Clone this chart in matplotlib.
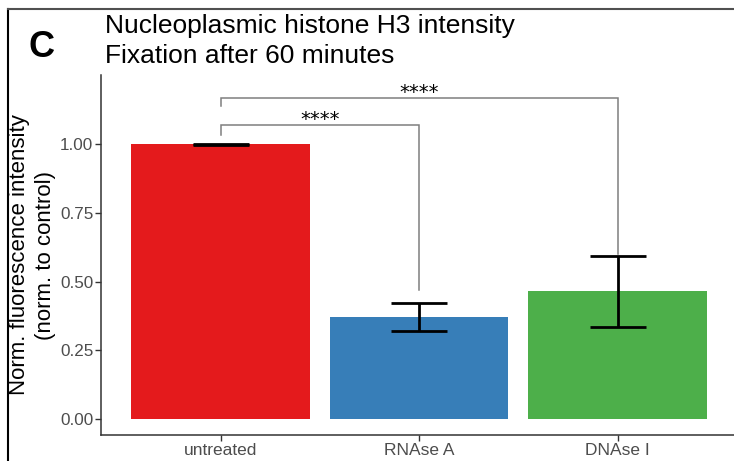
import matplotlib
matplotlib.use("Agg")
import matplotlib.pyplot as plt
from matplotlib.lines import Line2D

plt.rcParams['font.family'] = ['Liberation Sans', 'DejaVu Sans']

# Data
conditions = ["untreated", "RNAse A", "DNAse I"]
mean_intensity = [1.0, 0.372, 0.465]
error = [0.002, 0.05, 0.13]
bar_colors = ["#E41A1C", "#377EB8", "#4DAF4A"]

# Significance comparisons: (first group, second group, bracket height, leg bottoms, label)
comparisons = [
    (0, 1, 1.071, (1.035, 0.47), "****"),
    (0, 2, 1.168, (1.141, 0.60), "****"),
]

y_ticks = [0.0, 0.25, 0.50, 0.75, 1.00]
y_tick_labels = ["0.00", "0.25", "0.50", "0.75", "1.00"]

W, H = 734, 461
fig = plt.figure(figsize=(W / 100, H / 100), dpi=100)
ax = fig.add_axes([101.5 / W, 26 / H, (736.6 - 101.5) / W, (386 - 26) / H])

x = list(range(len(conditions)))
ax.bar(x, mean_intensity, width=0.9, color=bar_colors, zorder=2)
ax.errorbar(x, mean_intensity, yerr=error, fmt="none", ecolor="black",
            elinewidth=2, capsize=20, capthick=2, zorder=3)

for i, j, top, (lb, rb), label in comparisons:
    ax.plot([i, i, j, j], [lb, top, top, rb], color="#7f7f7f", lw=1.1,
            zorder=1, solid_joinstyle="miter")
    ax.text((i + j) / 2, top, label, ha="center", va="baseline",
            fontsize=14, color="black", family="DejaVu Sans")

ax.set_xlim(-0.6, 2.6)
ax.set_ylim(-0.058, 1.253)
ax.set_xticks(x)
ax.set_xticklabels(conditions, fontsize=12.5, color="#4D4D4D")
ax.set_yticks(y_ticks)
ax.set_yticklabels(y_tick_labels, fontsize=12.3, color="#4D4D4D")
ax.tick_params(axis="both", length=4, width=1, color="#333333", pad=2)

for side in ("top", "right"):
    ax.spines[side].set_visible(False)
for side in ("left", "bottom"):
    ax.spines[side].set_color("#333333")
    ax.spines[side].set_linewidth(1.1)

ax.set_ylabel("Norm. fluorescence intensity\n(norm. to control)",
              fontsize=16, color="black", labelpad=2.5, linespacing=1.35)

fig.text(105 / W, 1 - 33 / H, "Nucleoplasmic histone H3 intensity",
         ha="left", va="baseline", fontsize=19)
fig.text(105 / W, 1 - 63 / H, "Fixation after 60 minutes",
         ha="left", va="baseline", fontsize=19)
fig.text(28 / W, 1 - 57 / H, "C", ha="left", va="baseline",
         fontsize=26, fontweight="bold")

# Panel frame
fig.add_artist(Line2D([7.5 / W, 7.5 / W], [0, 1 - 9.5 / H],
                      transform=fig.transFigure, color="black", lw=1.5))
fig.add_artist(Line2D([7.5 / W, 1], [1 - 9.5 / H, 1 - 9.5 / H],
                      transform=fig.transFigure, color="#505050", lw=1.5))

fig.savefig("out.png", dpi=100)
